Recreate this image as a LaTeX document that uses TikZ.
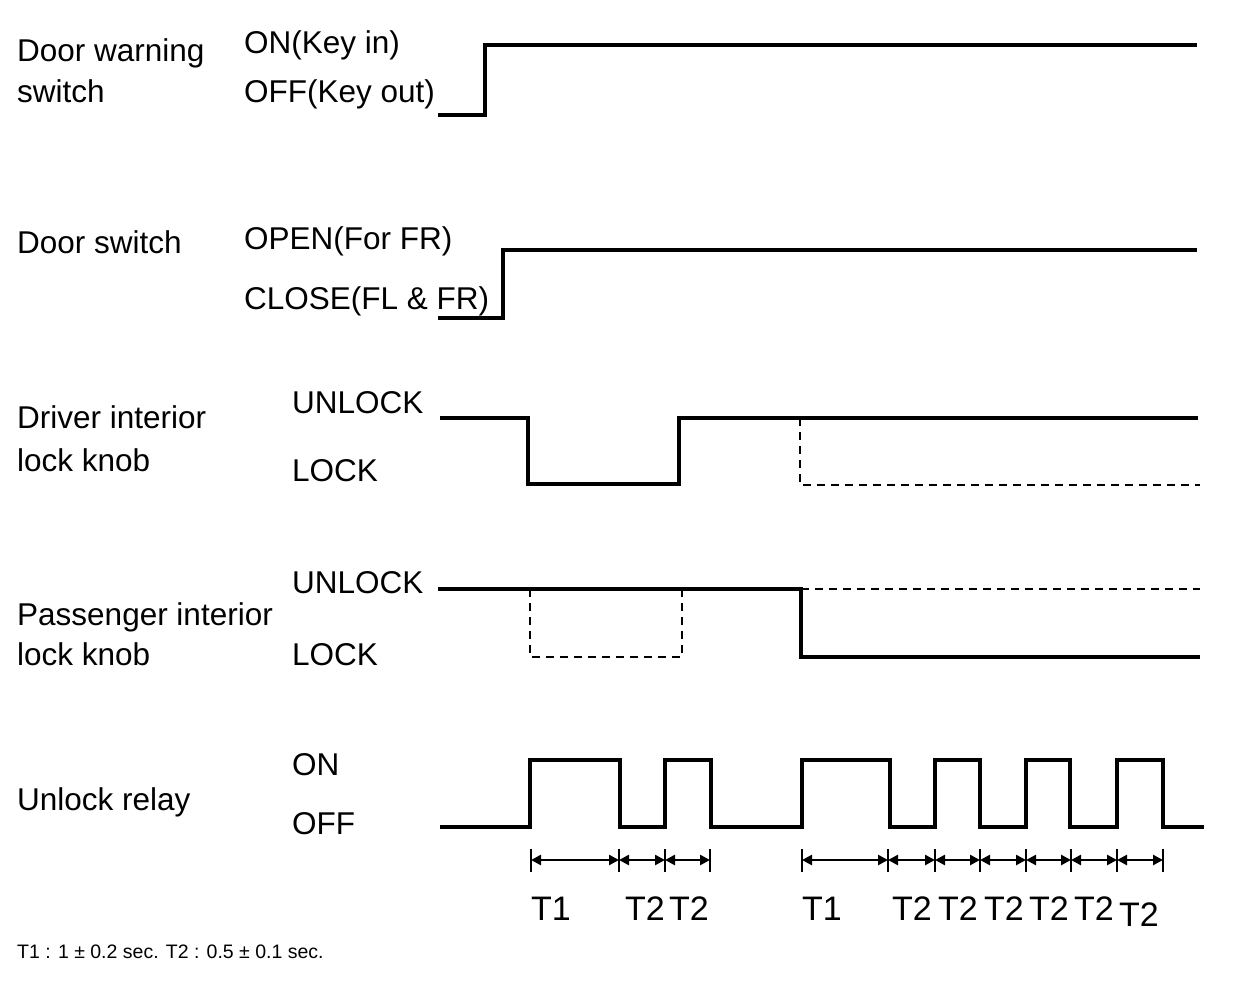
\documentclass[tikz,border=0pt]{standalone}
\usepackage{fontspec}
\setmainfont{Liberation Sans}
\usetikzlibrary{arrows.meta}
\begin{document}
\begin{tikzpicture}[x=1pt,y=-1pt,
  wave/.style={line width=3.5pt, line join=miter},
  ghost/.style={line width=1.4pt, dash pattern=on 8pt off 6pt},
  lab/.style={anchor=base west, inner sep=0pt, font=\fontsize{31.5}{36}\selectfont},
  tlab/.style={anchor=base, inner sep=0pt, font=\fontsize{34}{38}\selectfont},
  note/.style={anchor=base west, inner sep=0pt, font=\fontsize{19.5}{23}\selectfont},
  dim/.style={line width=2.5pt, {Triangle[length=10pt,width=10pt]}-{Triangle[length=10pt,width=10pt]}},
  tickmark/.style={line width=2.5pt}]
\useasboundingbox (0,0) rectangle (1248,994);

% ---- Door warning switch
\node[lab] (dw1) at (17,61) {Door warning};
\node[lab] (dw2) at (17,102) {switch};
\node[lab] (dwon) at (244,53) {ON(Key in)};
\node[lab] (dwoff) at (244,102) {OFF(Key out)};
\draw[wave] (438,115) -- (485,115) -- (485,45) -- (1197,45);

% ---- Door switch
\node[lab] (ds) at (17,253) {Door switch};
\node[lab] (dsopen) at (244,249) {OPEN(For FR)};
\node[lab] (dsclose) at (244,309) {CLOSE(FL \& FR)};
\draw[wave] (438,318) -- (503,318) -- (503,250) -- (1197,250);

% ---- Driver interior lock knob
\node[lab] (dr1) at (17,428) {Driver interior};
\node[lab] (dr2) at (17,471) {lock knob};
\node[lab] (drun) at (292,413) {UNLOCK};
\node[lab] (drlk) at (292,481) {LOCK};
\draw[wave] (440,418) -- (528,418) -- (528,484) -- (679,484) -- (679,418) -- (1198,418);
\draw[ghost] (800,418) -- (800,485) -- (1200,485);

% ---- Passenger interior lock knob
\node[lab] (ps1) at (17,625) {Passenger interior};
\node[lab] (ps2) at (17,665) {lock knob};
\node[lab] (psun) at (292,593) {UNLOCK};
\node[lab] (pslk) at (292,665) {LOCK};
\draw[wave] (438,589) -- (801,589) -- (801,657) -- (1200,657);
\draw[ghost] (801,589) -- (1200,589);
\draw[ghost] (530,589) -- (530,657) -- (682,657) -- (682,589);

% ---- Unlock relay
\node[lab] (ur) at (17,810) {Unlock relay};
\node[lab] (uron) at (292,775) {ON};
\node[lab] (uroff) at (292,834) {OFF};
\draw[wave] (440,827) -- (530,827) -- (530,760) -- (620,760) -- (620,827)
  -- (665,827) -- (665,760) -- (711,760) -- (711,827)
  -- (802,827) -- (802,760) -- (890,760) -- (890,827)
  -- (935,827) -- (935,760) -- (980,760) -- (980,827)
  -- (1026,827) -- (1026,760) -- (1070,760) -- (1070,827)
  -- (1117,827) -- (1117,760) -- (1163,760) -- (1163,827) -- (1204,827);

% ---- Timing dimensions
\foreach \n/\x in {a0/531,a1/619,a2/665,a3/710,b0/802,b1/888,b2/935,b3/980,b4/1026,b5/1071,b6/1117,b7/1163}
  \coordinate (\n) at (\x,860);
\foreach \n in {a0,a1,a2,a3,b0,b1,b2,b3,b4,b5,b6,b7}
  \draw[tickmark] ([yshift=11pt]\n) -- ([yshift=-12pt]\n);
\draw[dim] (a0) -- (a1);
\draw[dim] (a1) -- (a2);
\draw[dim] (a2) -- (a3);
\draw[dim] (b0) -- (b1);
\draw[dim] (b1) -- (b2);
\draw[dim] (b2) -- (b3);
\draw[dim] (b3) -- (b4);
\draw[dim] (b4) -- (b5);
\draw[dim] (b5) -- (b6);
\draw[dim] (b6) -- (b7);

\node[tlab] (ta1) at (551,920) {T1};
\node[tlab] (ta2) at (645,920) {T2};
\node[tlab] (ta3) at (689,920) {T2};
\node[tlab] (tb1) at (822,920) {T1};
\node[tlab] (tb2) at (912,920) {T2};
\node[tlab] (tb3) at (958,920) {T2};
\node[tlab] (tb4) at (1004,920) {T2};
\node[tlab] (tb5) at (1049,920) {T2};
\node[tlab] (tb6) at (1094,920) {T2};
\node[tlab] (tb7) at (1139,926) {T2};

% ---- footnote
\node[note] (fn) at (17,958) {T1 : 1 ± 0.2 sec. T2 : 0.5 ± 0.1 sec.};
\end{tikzpicture}
\end{document}
